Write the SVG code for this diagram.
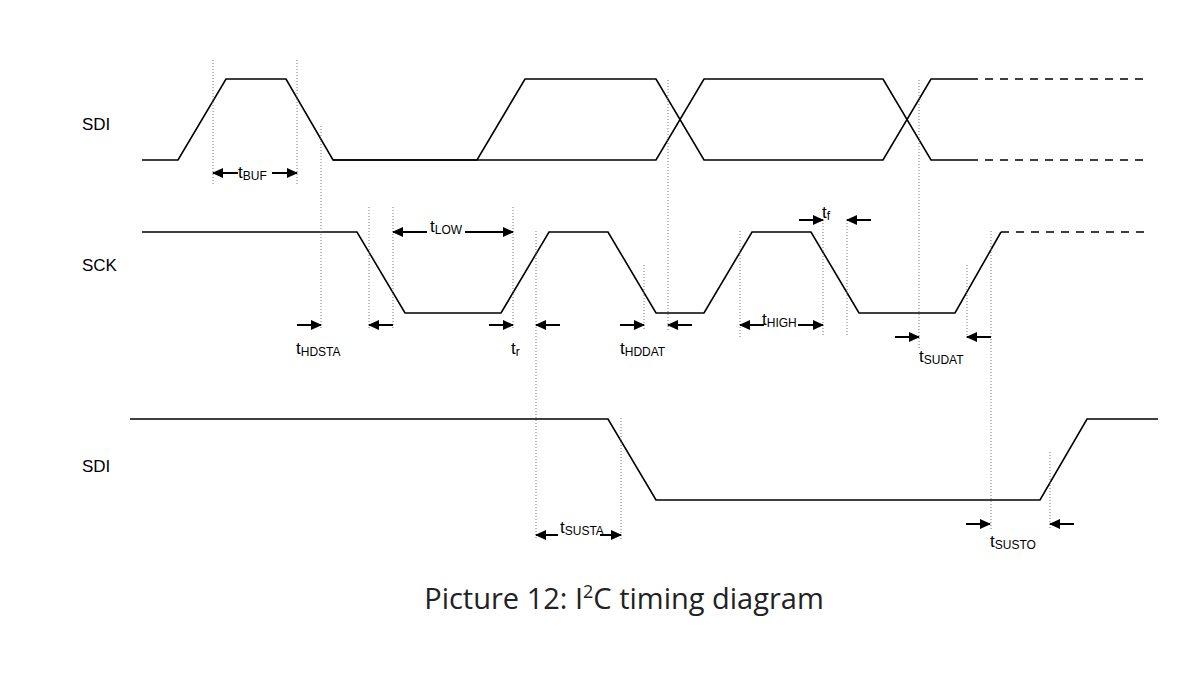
<svg xmlns="http://www.w3.org/2000/svg" width="1189" height="698" viewBox="0 0 1189 698">
<style>
.s{fill:none;stroke:#000;stroke-width:1.6}
.d{fill:none;stroke:#000;stroke-width:1.6;stroke-dasharray:8 7}
.v{stroke:#777;stroke-width:1;stroke-dasharray:1 2}
.a{stroke:#000;stroke-width:2;marker-end:url(#ah)}
text{font-family:"Liberation Sans",Arial,sans-serif;fill:#000}
.t{font-size:17px}
.b{font-size:12px}
</style>
<defs><marker id="ah" markerWidth="11" markerHeight="10" refX="10" refY="5" orient="auto" markerUnits="userSpaceOnUse"><path d="M0,0L11,5L0,10z"/></marker></defs>
<rect width="1189" height="698" fill="#fff"/>
<g id="signals">
<path class="s" d="M142,160H178L226,79H286L333,160H477L525,79H656L704,160H883L931,79H970"/>
<path class="s" d="M333,160H656L704,79H883L931,160H970"/>
<path class="d" d="M970,79H1150M970,160H1150"/>
<path class="s" d="M142,232H357L405,313H501L549,232H608L656,313H704L752,232H811L859,313H955L1001,232"/>
<path class="d" d="M1001,232H1150"/>
<path class="s" d="M130,419H608L656,500H1040L1087,419H1158"/>
</g>
<g id="guides">
<line class="v" x1="213" y1="60" x2="213" y2="185"/><line class="v" x1="297" y1="60" x2="297" y2="185"/>
<line class="v" x1="321" y1="126" x2="321" y2="330"/>
<line class="v" x1="369" y1="207" x2="369" y2="328"/><line class="v" x1="393" y1="207" x2="393" y2="328"/>
<line class="v" x1="513" y1="207" x2="513" y2="330"/><line class="v" x1="536" y1="231" x2="536" y2="540"/>
<line class="v" x1="644" y1="265" x2="644" y2="330"/><line class="v" x1="668" y1="80" x2="668" y2="330"/>
<line class="v" x1="740" y1="231" x2="740" y2="337"/><line class="v" x1="823" y1="220" x2="823" y2="337"/>
<line class="v" x1="847" y1="220" x2="847" y2="337"/><line class="v" x1="919" y1="80" x2="919" y2="350"/>
<line class="v" x1="967" y1="265" x2="967" y2="340"/><line class="v" x1="991" y1="231" x2="991" y2="530"/>
<line class="v" x1="621" y1="418" x2="621" y2="540"/><line class="v" x1="1050" y1="452" x2="1050" y2="528"/>
</g>
<g id="arrows">
<line class="a" x1="238" y1="173" x2="213" y2="173"/><line class="a" x1="272" y1="173" x2="297" y2="173"/>
<line class="a" x1="427" y1="232" x2="393" y2="232"/><line class="a" x1="465" y1="232" x2="513" y2="232"/>
<line class="a" x1="297" y1="325" x2="321" y2="325"/><line class="a" x1="393" y1="325" x2="369" y2="325"/>
<line class="a" x1="489" y1="325" x2="513" y2="325"/><line class="a" x1="560" y1="325" x2="536" y2="325"/>
<line class="a" x1="620" y1="325" x2="644" y2="325"/><line class="a" x1="692" y1="325" x2="668" y2="325"/>
<line class="a" x1="764" y1="325" x2="740" y2="325"/><line class="a" x1="798" y1="325" x2="823" y2="325"/>
<line class="a" x1="799" y1="220" x2="823" y2="220"/><line class="a" x1="871" y1="220" x2="847" y2="220"/>
<line class="a" x1="895" y1="337" x2="919" y2="337"/><line class="a" x1="991" y1="337" x2="967" y2="337"/>
<line class="a" x1="558" y1="535" x2="536" y2="535"/><line class="a" x1="600" y1="535" x2="621" y2="535"/>
<line class="a" x1="966" y1="524" x2="990" y2="524"/><line class="a" x1="1074" y1="524" x2="1050" y2="524"/>
</g>
<g id="labels">
<text x="82" y="130" class="t">SDI</text><text x="82" y="271" class="t">SCK</text><text x="82" y="472" class="t">SDI</text>
<text x="238" y="178" class="t">t<tspan class="b" dy="2">BUF</tspan></text>
<text x="430" y="232" class="t">t<tspan class="b" dy="2">LOW</tspan></text>
<text x="296" y="354" class="t">t<tspan class="b" dy="2">HDSTA</tspan></text>
<text x="511" y="354" class="t">t<tspan class="b" dy="2">r</tspan></text>
<text x="620" y="354" class="t">t<tspan class="b" dy="2">HDDAT</tspan></text>
<text x="762" y="325" class="t">t<tspan class="b" dy="2">HIGH</tspan></text>
<text x="822" y="218" class="t">t<tspan class="b" dy="2">f</tspan></text>
<text x="919" y="362" class="t">t<tspan class="b" dy="2">SUDAT</tspan></text>
<text x="560" y="533" class="t">t<tspan class="b" dy="2">SUSTA</tspan></text>
<text x="990" y="547" class="t">t<tspan class="b" dy="2">SUSTO</tspan></text>
<text x="624" y="609" text-anchor="middle" style="font-family:'Open Sans','DejaVu Sans',sans-serif;font-size:29px;fill:#222">Picture 12: I<tspan font-size="18" dy="-11">2</tspan><tspan dy="11">C timing diagram</tspan></text>
</g>
</svg>
